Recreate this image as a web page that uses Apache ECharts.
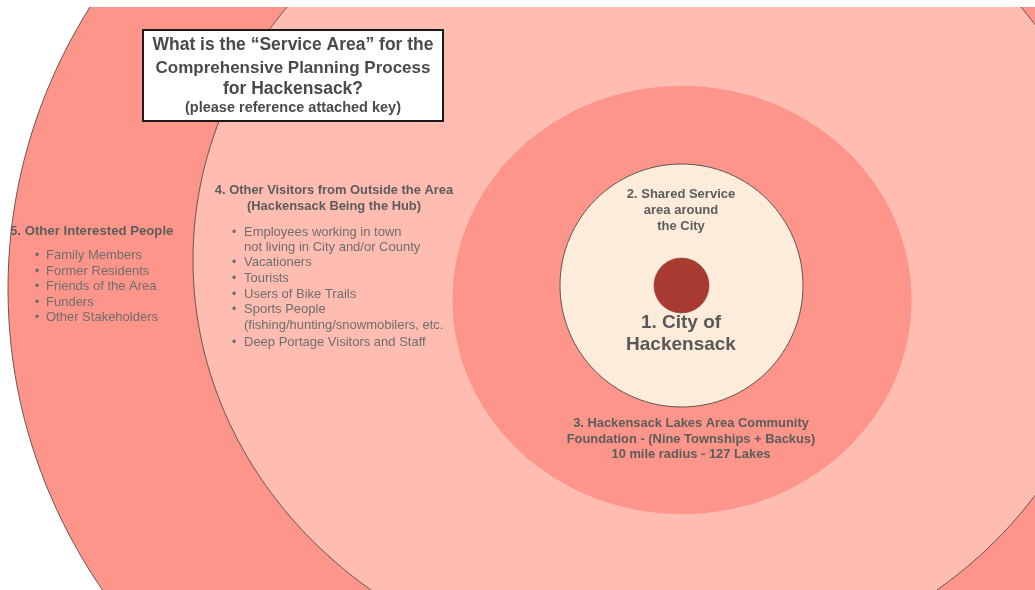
<!DOCTYPE html>
<html>
<head>
<meta charset="utf-8">
<title>Service Area</title>
<script src="https://cdn.jsdelivr.net/npm/echarts@6/dist/echarts.min.js"></script>
<style>
  html, body { margin: 0; padding: 0; background: #fff; }
  #chart { width: 1035px; height: 590px; }
</style>
</head>
<body>
<div id="chart"></div>
<script>
// rings, outermost first (diagram units = page pixels)
var ringNames = ['5. Other Interested People', '4. Other Visitors', '3. Lakes Area Foundation', '2. Shared Service', '1. City of Hackensack'];
var ringCenterX = [635, 654, 682, 681.5, 681.5];
var ringCenterY = [289, 260, 300, 285.5, 285.5];
var ringRadiusX = [627, 461, 229.5, 121.5, 27.5];
var ringRadiusY = [570, 418, 214, 121.5, 27.5];

var titleLines = ['What is the \u201cService Area\u201d for the', 'Comprehensive Planning Process', 'for Hackensack?', '(please reference attached key)'];
var ring5Items = ['Family Members', 'Former Residents', 'Friends of the Area', 'Funders', 'Other Stakeholders'];
var ring4Head = ['4. Other Visitors from Outside the Area', '(Hackensack Being the Hub)'];
var ring4Items = ['Employees working in town', '\tnot living in City and/or County', 'Vacationers', 'Tourists', 'Users of Bike Trails', 'Sports People', '\t(fishing/hunting/snowmobilers, etc.', 'Deep Portage Visitors and Staff'];
var ring3Lines = ['3. Hackensack Lakes Area Community', 'Foundation - (Nine Townships + Backus)', '10 mile radius - 127 Lakes'];
var ring2Lines = ['2. Shared Service', 'area around', 'the City'];
var ring1Lines = ['1. City of', 'Hackensack'];

var chart = echarts.init(document.getElementById('chart'));

var fills = ['#fe958a', '#ffbcb0', '#fe958a', '#fdecda', '#a83a31'];
var strokes = ['#6a5550', '#6a5550', null, '#5e5550', '#8a3a33'];
var FONT = '"Liberation Sans", Arial, sans-serif';

var ringData = [];
for (var i = 0; i < ringNames.length; i++) {
    ringData.push({ name: ringNames[i], value: [ringCenterX[i], ringCenterY[i], ringRadiusX[i], ringRadiusY[i], i] });
}

var txt = function (text, x, y, size, weight, color, align) {
    return {
        type: 'text', x: x, y: y, z: 100, silent: true,
        style: {
            text: text, fill: color, font: weight + ' ' + size + 'px ' + FONT,
            textAlign: align || 'center', textVerticalAlign: 'middle',
            align: align || 'center', verticalAlign: 'middle'
        }
    };
};

var graphics = [];
// title box
graphics.push({
    type: 'rect', z: 99, shape: { x: 143, y: 30, width: 300, height: 91 },
    style: { fill: '#fff', stroke: '#1a1a1a', lineWidth: 2 }
});
graphics.push(txt(titleLines[0], 293, 45, 17.5, 'bold', '#4a4a4a'));
graphics.push(txt(titleLines[1], 293, 68, 17, 'bold', '#4a4a4a'));
graphics.push(txt(titleLines[2], 293, 89, 17.5, 'bold', '#4a4a4a'));
graphics.push(txt(titleLines[3], 293, 108, 14.5, 'bold', '#4a4a4a'));

// ring 5
graphics.push(txt('5. Other Interested People', 10, 231, 13.2, 'bold', '#5c5c5c', 'left'));
var y5 = [255, 271, 286, 302, 317];
ring5Items.forEach(function (t, k) {
    graphics.push(txt('\u2022', 35, y5[k] + 1, 12, 'normal', '#6a6a6a', 'left'));
    graphics.push(txt(t, 46, y5[k], 13, 'normal', '#6e6e6e', 'left'));
});

// ring 4
graphics.push(txt(ring4Head[0], 334, 190, 12.9, 'bold', '#5c5c5c'));
graphics.push(txt(ring4Head[1], 334, 206, 12.9, 'bold', '#5c5c5c'));
var y4 = [232, 247, 262, 278, 294, 309, 325, 342];
ring4Items.forEach(function (t, k) {
    var cont = t.charAt(0) === '\t';
    if (!cont) graphics.push(txt('\u2022', 232, y4[k] + 1, 12, 'normal', '#6a6a6a', 'left'));
    graphics.push(txt(cont ? t.slice(1) : t, 244, y4[k], 13, 'normal', '#6e6e6e', 'left'));
});

// ring 3
var y3 = [423, 439, 454];
ring3Lines.forEach(function (t, k) {
    graphics.push(txt(t, 691, y3[k], 12.9, 'bold', '#5c5c5c'));
});
// ring 2
var y2 = [194, 210, 226];
ring2Lines.forEach(function (t, k) {
    graphics.push(txt(t, 681, y2[k], 13, 'bold', '#5c5c5c'));
});
// ring 1
graphics.push(txt(ring1Lines[0], 681, 323, 19, 'bold', '#585858'));
graphics.push(txt(ring1Lines[1], 681, 345, 19, 'bold', '#585858'));

var option = {
    animation: false,
    grid: { left: 0, right: 0, top: 7, bottom: 0 },
    xAxis: { type: 'value', min: 0, max: 1035, show: false },
    yAxis: { type: 'value', min: 7, max: 590, inverse: true, show: false },
    graphic: { elements: graphics },
    series: [
        {
            type: 'custom',
            clip: true,
            z: 1,
            data: ringData,
            renderItem: function (params, api) {
                var c = api.coord([api.value(0), api.value(1)]);
                var s = api.size([api.value(2), api.value(3)]);
                var idx = api.value(4);
                return {
                    type: 'ellipse',
                    shape: { cx: c[0], cy: c[1], rx: s[0], ry: s[1] },
                    style: {
                        fill: fills[idx],
                        stroke: strokes[idx] || null,
                        lineWidth: strokes[idx] ? (idx === 4 ? 0.5 : 1) : 0
                    }
                };
            }
        }
    ]
};
chart.setOption(option);
</script>
</body>
</html>
